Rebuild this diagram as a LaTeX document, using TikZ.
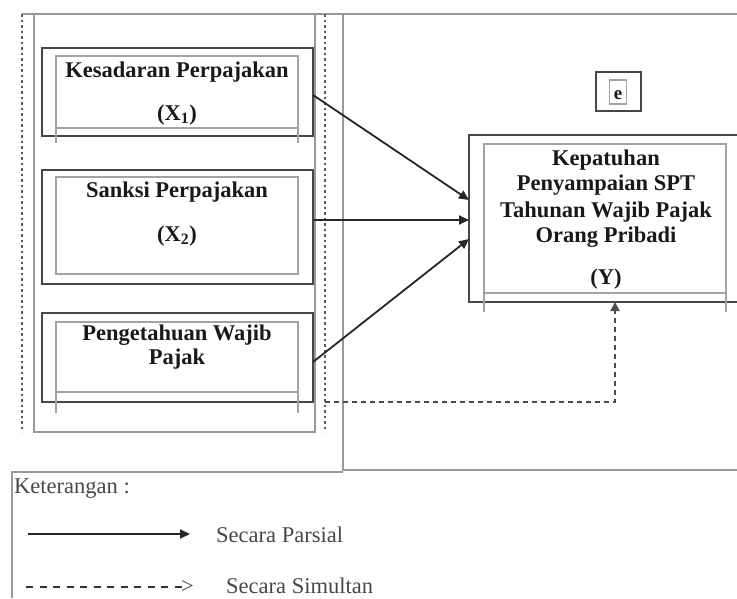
\documentclass[tikz,border=0pt]{standalone}
\usepackage{fontspec}
\setmainfont{Liberation Serif}
\usetikzlibrary{calc,arrows.meta}
\definecolor{frame}{gray}{0.6}
\definecolor{boxline}{gray}{0.28}
\definecolor{innerline}{gray}{0.64}
\definecolor{txt}{gray}{0.1}
\tikzset{
  outerbox/.style={draw=boxline, line width=2.2pt, inner sep=0pt, outer sep=0pt, minimum width=271pt},
  innerbox/.style={draw=innerline, line width=1.5pt},
  frameline/.style={draw=frame, line width=2pt},
  dotline/.style={draw=gray!70!black, line width=2.4pt, dash pattern=on 2.5pt off 3pt},
  lbl/.style={font=\fontsize{22.5}{26}\selectfont\bfseries, text=txt, anchor=base, inner sep=0pt},
  legtxt/.style={font=\fontsize{22.5}{26}\selectfont, text=txt!80, anchor=base west, inner sep=0pt},
  partial/.style={draw=black!85, line width=1.8pt, -{Triangle[length=10pt,width=9pt]}},
  simult/.style={draw=black!70, line width=2pt, dash pattern=on 5pt off 4pt, -{Triangle[length=9pt,width=9pt]}},
  legdash/.style={draw=black!80, line width=2.2pt, dash pattern=on 7pt off 6.5pt},
}
\begin{document}
\begin{tikzpicture}[x=1pt,y=-1pt]
\useasboundingbox (0,0) rectangle (737,598);
% outer frames
\draw[frameline] (22,14) -- (737,14);
\draw[frameline] (34,14) -- (34,432) -- (315,432) -- (315,14);
\draw[frameline] (343,14) -- (343,470) -- (737,470);
\draw[dotline] (22,14) -- (22,432);
\draw[dotline] (325,14) -- (325,432);
\draw[frameline] (12,598) -- (12,472) -- (343,472);

% box X1
\node[outerbox, minimum height=88pt] (x1) at (177.5,92) {};
\draw[innerbox] (56,143) -- (56,56) -- (298,56) -- (298,143);
\draw[innerbox] (56,128) -- (298,128);
\node[lbl] (x1a) at (177,77) {Kesadaran Perpajakan};
\node[lbl] (x1b) at (177,120) {(X\textsubscript{1})};

% box X2
\node[outerbox, minimum height=114pt] (x2) at (177.5,227) {};
\draw[innerbox] (56,177) rectangle (298,274);
\node[lbl] (x2a) at (177,197) {Sanksi Perpajakan};
\node[lbl] (x2b) at (177,241) {(X\textsubscript{2})};

% box X3
\node[outerbox, minimum height=89pt] (x3) at (177.5,357.5) {};
\draw[innerbox] (56,413) -- (56,322) -- (298,322) -- (298,413);
\draw[innerbox] (56,392) -- (298,392);
\node[lbl] (x3a) at (177,340) {Pengetahuan Wajib};
\node[lbl] (x3b) at (177,364) {Pajak};

% box Y
\node[inner sep=0pt, outer sep=0pt, minimum width=268pt, minimum height=167pt] (ybox) at (603,218.5) {};
\draw[boxline, line width=2.2pt] (ybox.north east) -- (ybox.north west) -- (ybox.south west) -- (ybox.south east);
\draw[innerbox] (484,312) -- (484,144) -- (726,144) -- (726,312);
\draw[innerbox] (484,293) -- (726,293);
\node[lbl] (y1) at (606,165) {Kepatuhan};
\node[lbl] (y2) at (606,190) {Penyampaian SPT};
\node[lbl] (y3) at (606,217) {Tahunan Wajib Pajak};
\node[lbl] (y4) at (606,242) {Orang Pribadi};
\node[lbl] (y5) at (606,284) {(Y)};

% e box
\node[draw=boxline, line width=1.6pt, inner sep=0pt, minimum width=45pt, minimum height=39pt] (ebox) at (618.5,91.5) {};
\node[draw=innerline, line width=1.2pt, inner sep=0pt, minimum width=17pt, minimum height=24pt] (eicon) at (618,92) {};
\node[font=\fontsize{19}{22}\selectfont\bfseries, text=txt, anchor=base, inner sep=0pt] (etext) at (618,99) {e};

% partial arrows
\draw[partial] ($(x1.east)+(0,3)$) -- ($(ybox.west)+(0,-18.5)$);
\draw[partial] ($(x2.east)+(0,-7)$) -- ($(ybox.west)+(0,1.5)$);
\draw[partial] ($(x3.east)+(0,4.5)$) -- ($(ybox.west)+(0,20.5)$);

% simultaneous arrow
\coordinate (sjoin) at ($(x3.south east)+(12,0)$);
\coordinate (ybottom) at ($(ybox.south west)+(146,0)$);
\draw[simult] (sjoin) -- (sjoin -| ybottom) -- (ybottom);

% legend
\node[legtxt] (ket) at (14,493) {Keterangan :};
\coordinate (p1) at (28,534);
\coordinate (p2) at (190,534);
\draw[partial] (p1) -- (p2);
\node[legtxt] (parsial) at (216,542) {Secara Parsial};
\coordinate (s1) at (26,587);
\coordinate (s2) at (182,587);
\draw[legdash] (s1) -- (s2);
\node[legtxt] (gt) at (181,593) {>};
\node[legtxt] (simultan) at (226,593) {Secara Simultan};
\end{tikzpicture}
\end{document}
